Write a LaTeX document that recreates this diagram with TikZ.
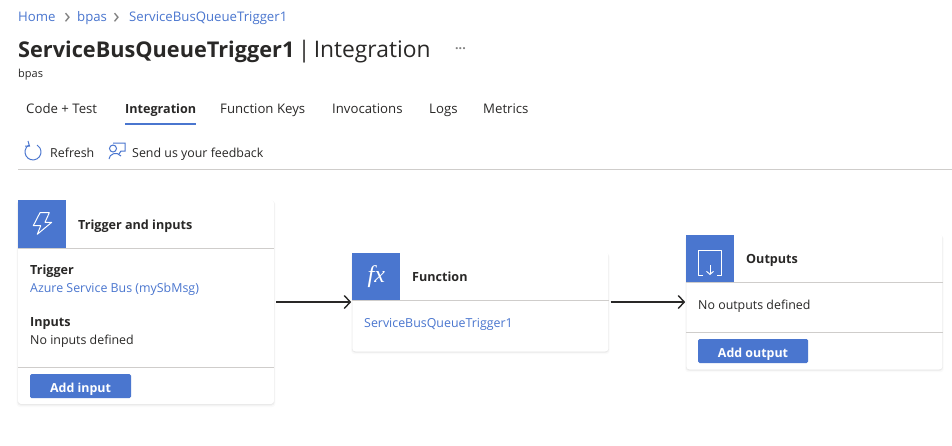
\documentclass[tikz,border=0pt]{standalone}
\usepackage{fontspec}
\setmainfont{Open Sans}
\usetikzlibrary{positioning,arrows.meta,shadows}
\definecolor{azblue}{HTML}{4A76CF}
\definecolor{ink}{HTML}{292827}
\definecolor{rule}{HTML}{CFCDCB}
\newcommand{\bodyfont}{\fontsize{12.4}{15}\selectfont}
\newcommand{\tabfont}{\fontsize{13.2}{15}\selectfont}

\tikzset{
  card/.style = {fill=white, rounded corners=3pt, minimum width=256pt, inner sep=0pt,
    general shadow={fill=black, opacity=.02, shadow scale=1.01, shadow yshift=-2pt},
    general shadow={fill=black, opacity=.04, shadow scale=1.005, shadow yshift=-1pt},
    general shadow={fill=black, opacity=.05, shadow yshift=-.5pt}},
  head/.style = {fill=azblue, text=white, inner sep=0pt, minimum size=48pt, anchor=north west},
  txt/.style = {anchor=west, inner sep=0pt, text=ink, font=\bodyfont, text height=11.5pt, text depth=1pt},
  lnk/.style = {txt, text=azblue},
  bold/.style = {txt, font=\fontsize{12.6}{15}\selectfont\bfseries},
  tab/.style = {txt, font=\tabfont},
  button/.style = {fill=azblue, text=white, rounded corners=1.5pt, inner sep=0pt, minimum height=24pt,
    font=\fontsize{12.4}{15}\selectfont\bfseries, text height=13pt, text depth=1pt},
  sep/.style = {draw=rule, line width=1pt},
  icon/.style = {draw=white, line width=1pt, line join=round},
  tool/.style = {draw=azblue, line width=1pt},
  flow/.style = {draw=ink, line width=1.6pt, -{Straight Barb[length=6pt,width=13pt,line width=1.4pt]},
    shorten <=2pt, shorten >=1pt}
}

\begin{document}
\begin{tikzpicture}[x=1pt, y=-1pt, node distance=78pt]
  \path[use as bounding box, fill=white] (0,0) rectangle (952,445);

  % breadcrumb and title
  \node[lnk, font=\tabfont] (home) at (18,16) {Home};
  \node[lnk, font=\tabfont] (base) at (77,16) {bpas};
  \node[lnk, font=\tabfont] (crumb) at (129,16) {ServiceBusQueueTrigger1};
  \node[txt, text=gray, font=\fontsize{22}{22}\selectfont] (gt1) at (64,18) {›};
  \node[txt, text=gray, font=\fontsize{22}{22}\selectfont] (gt2) at (113,18) {›};
  \node[txt, font=\fontsize{22.8}{28}\selectfont, text height=17pt, text depth=3pt] (title) at (18,50)
    {{\fontsize{21.7}{28}\selectfont\bfseries ServiceBusQueueTrigger1}\hspace{-2.5pt} | \hspace{-2.5pt}Integration};
  \node[txt, text=gray] (dots) at (455,44) {\textbf{...}};
  \node[txt, font=\fontsize{11}{13}\selectfont] (sub) at (18,72) {bpas};

  % tabs
  \node[tab] (tab1) at (26,108) {Code + Test};
  \node[bold] (tab2) at (125,108) {Integration};
  \node[tab] (tab3) at (220,108) {Function Keys};
  \node[tab] (tab4) at (332,108) {Invocations};
  \node[tab] (tab5) at (429,108) {Logs};
  \node[tab] (tab6) at (483,108) {Metrics};
  \draw[azblue, line width=2pt] (tab2.west |- 0,124) -- (tab2.east |- 0,124);

  % toolbar
  \node[txt] (refresh) at (50,152) {Refresh};
  \node[txt] (feedback) at (132,152) {Send us your feedback};
  \draw[tool] (29,145) arc[start angle=120, end angle=420, radius=8pt];
  \draw[tool] (28,141) -- (29.5,146) -- (25,146);
  \draw[tool] (113,148.5) circle[radius=3.5pt] (109,159) .. controls (109,154) and (117,151) .. (121,156);
  \draw[tool] (113,143) -- (125,143) -- (125,151) -- (121,151) -- (119,154);
  \draw[rule, line width=1pt] (18,169) -- (952,169);

  % the three cards
  \node[card, minimum height=204pt] (trig) at (146,302) {};
  \node[card, minimum height=99pt, right=of trig] (func) {};
  \node[card, minimum height=135pt, right=77.6pt of func] (outp) {};

  \node[head] (trighead) at (trig.north west) {};
  \node[head] (funchead) at (func.north west) {\fontsize{24}{24}\selectfont\setmainfont{Liberation Serif}\itshape fx};
  \node[head] (outphead) at (outp.north west) {};

  \draw[sep] (trighead.south west) -- (trighead.south -| trig.east);
  \draw[sep] (funchead.south west) -- (funchead.south -| func.east);
  \draw[sep] (outphead.south west) -- (outphead.south -| outp.east);

  % trigger card
  \draw[icon] (40,212.7) -- (49.3,212.7) -- (45,222.3) -- (51.7,222.3) -- (37.3,234.3)
    -- (40.7,225.7) -- (33.3,225.7) -- cycle;
  \node[bold] (trigtitle) at (78,224) {Trigger and inputs};
  \node[bold] (t1) at (30,269) {Trigger};
  \node[lnk] (t2) at (30,287) {Azure Service Bus (mySbMsg)};
  \node[bold] (t3) at (30,321) {Inputs};
  \node[txt] (t4) at (30,339) {No inputs defined};
  \draw[sep] (trig.west |- 0,367) -- (trig.east |- 0,367);
  \node[button, minimum width=101pt] (addin) at (80.5,386) {Add input};

  % function card
  \node[bold] (functitle) at (412,276) {Function};
  \node[lnk] (f1) at (364,322) {ServiceBusQueueTrigger1};

  % outputs card
  \draw[icon] (703,275.5) -- (698.5,275.5) -- (698.5,250) -- (721,250) -- (721,275.5) -- (716.5,275.5);
  \draw[icon, -{Straight Barb[length=3pt,width=7pt]}] (710,265) -- (710,275);
  \node[bold] (outptitle) at (746,258) {Outputs};
  \node[txt] (o1) at (698,304) {No outputs defined};
  \draw[sep] (outp.west |- 0,332) -- (outp.east |- 0,332);
  \node[button, minimum width=110pt] (addout) at (753,351) {Add output};

  \draw[flow] (trig) -- (func);
  \draw[flow] (func) -- (outp);
\end{tikzpicture}
\end{document}
